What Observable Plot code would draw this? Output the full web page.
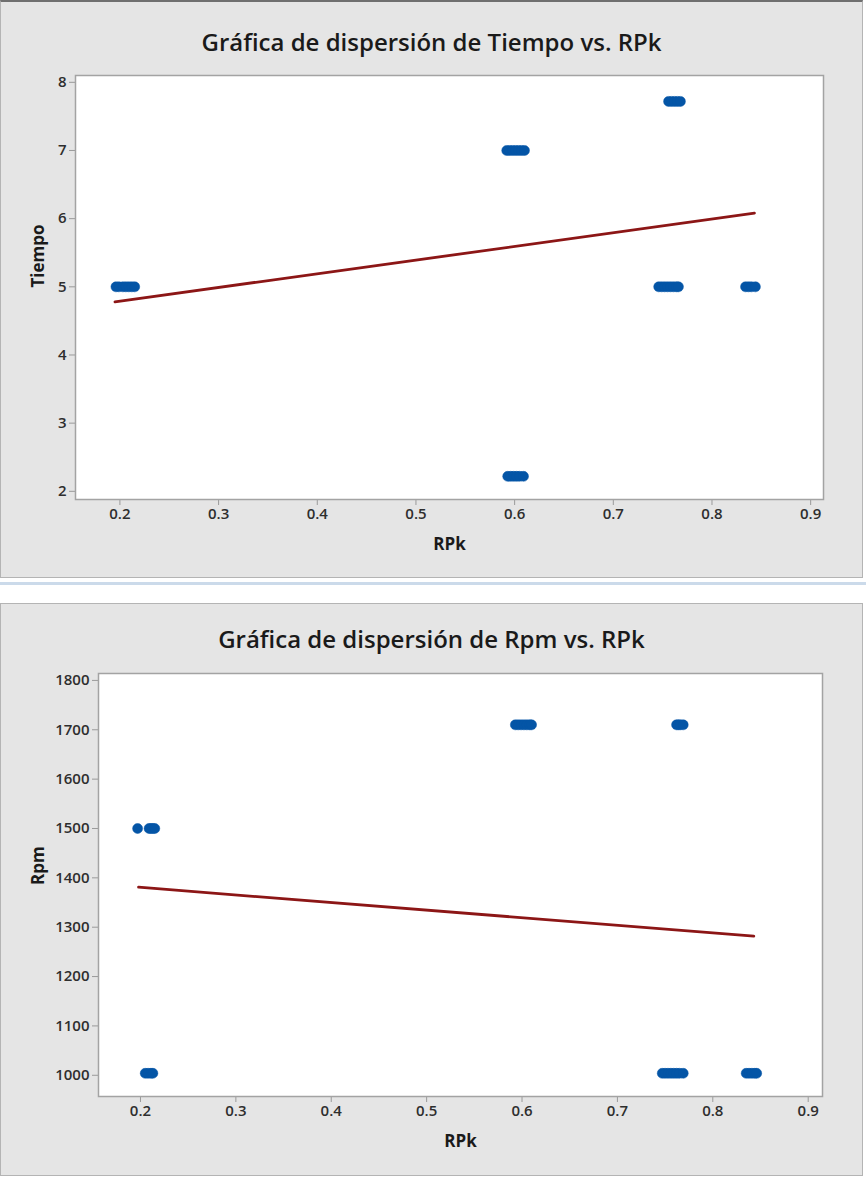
<!DOCTYPE html>
<html>
<head>
<meta charset="utf-8">
<script src="https://cdn.jsdelivr.net/npm/d3@7"></script>
<script src="https://cdn.jsdelivr.net/npm/@observablehq/plot@0.6"></script>
<style>
  body { margin: 0; background: #ffffff; width: 868px; height: 1177px; position: relative; overflow: hidden; }
  .panel { position: absolute; left: 0; box-sizing: content-box; background: #e5e5e5; border: 1px solid #b4b4b4; }
  #p1 { top: 0; border-top: 2px solid #6f6f6f; }
  #p2 { top: 603px; }
  .sep { position: absolute; left: 0; top: 582px; width: 866px; height: 3px; background: #cbdaea; }
  svg text { font-family: "Open Sans", "Noto Sans", sans-serif; }
</style>
</head>
<body>
<div class="panel" id="p1"></div>
<div class="sep"></div>
<div class="panel" id="p2"></div>
<script>
// ---- Data: Tiempo vs RPk ----
const rpkTiempo = [0.196, 0.199, 0.203, 0.206, 0.209, 0.212, 0.215,
                   0.592, 0.595, 0.598, 0.601, 0.604, 0.607, 0.610,
                   0.756, 0.759, 0.762, 0.765, 0.768,
                   0.746, 0.749, 0.752, 0.755, 0.758, 0.761, 0.764, 0.766,
                   0.834, 0.837, 0.840, 0.844,
                   0.593, 0.596, 0.599, 0.602, 0.605, 0.609];
const tiempo =    [5, 5, 5, 5, 5, 5, 5,
                   7, 7, 7, 7, 7, 7, 7,
                   7.72, 7.72, 7.72, 7.72, 7.72,
                   5, 5, 5, 5, 5, 5, 5, 5,
                   5, 5, 5, 5,
                   2.22, 2.22, 2.22, 2.22, 2.22, 2.22];
const fitTiempoX = [0.195, 0.843];
const fitTiempoY = [4.78, 6.08];

// ---- Data: Rpm vs RPk ----
const rpkRpm = [0.197, 0.209, 0.211, 0.213, 0.215,
                0.205, 0.208, 0.211, 0.213,
                0.593, 0.596, 0.599, 0.602, 0.605, 0.608, 0.610,
                0.762, 0.764, 0.766, 0.769,
                0.747, 0.750, 0.753, 0.756, 0.759, 0.762, 0.765, 0.769,
                0.835, 0.838, 0.841, 0.844, 0.846];
const rpm =    [1500, 1500, 1500, 1500, 1500,
                1004, 1004, 1004, 1004,
                1710, 1710, 1710, 1710, 1710, 1710, 1710,
                1710, 1710, 1710, 1710,
                1004, 1004, 1004, 1004, 1004, 1004, 1004, 1004,
                1004, 1004, 1004, 1004, 1004];
const fitRpmX = [0.198, 0.843];
const fitRpmY = [1381, 1282];

// ---- Ticks / labels ----
const xTicks = [0.2, 0.3, 0.4, 0.5, 0.6, 0.7, 0.8, 0.9];
const yTicksTiempo = [2, 3, 4, 5, 6, 7, 8];
const yTicksRpm = [1000, 1100, 1200, 1300, 1400, 1500, 1600, 1700, 1800];
const title1 = "Gráfica de dispersión de Tiempo vs. RPk";
const title2 = "Gráfica de dispersión de Rpm vs. RPk";
const xLabel = "RPk";
const yLabel1 = "Tiempo";
const yLabel2 = "Rpm";

const dotColor = "#0455a6";
const lineColor = "#8c1616";
const font = "'Open Sans', 'Noto Sans', sans-serif";

function makeChart(o) {
  const pts = o.xs.map((x, i) => ({x, y: o.ys[i]}));
  const fit = o.fx.map((x, i) => ({x, y: o.fy[i]}));
  const W = 861;
  const plotCenter = o.ml + (W - o.ml - o.mr) / 2;
  return Plot.plot({
    width: W,
    height: o.h,
    marginLeft: o.ml, marginRight: o.mr, marginTop: o.mt, marginBottom: o.mb,
    style: {background: "transparent", fontFamily: font, fontSize: "15px", color: "#2b2b2b", overflow: "visible"},
    x: {domain: o.xd, ticks: xTicks},
    y: {domain: o.yd, ticks: o.yt},
    marks: [
      Plot.frame({fill: "white", stroke: "none"}),
      Plot.axisX(xTicks, {tickSize: 6, tickPadding: 3, stroke: "#9a9a9a", fill: "#2e2e2e", fontSize: 15, fontWeight: 600, label: null, tickFormat: d3.format(".1f")}),
      Plot.axisY(o.yt, {tickSize: 6, tickPadding: 3, stroke: "#9a9a9a", fill: "#2e2e2e", fontSize: 15, fontWeight: 600, label: null, tickFormat: d => String(d)}),
      Plot.frame({stroke: "#a3a3a3", strokeWidth: 1.5}),
      Plot.line(fit, {x: "x", y: "y", stroke: lineColor, strokeWidth: 2.8}),
      Plot.dot(pts, {x: "x", y: "y", r: 5, fill: dotColor, stroke: dotColor, strokeWidth: 0.5}),
      Plot.text([o.title], {frameAnchor: "top", lineAnchor: "bottom", dy: o.titleY - o.mt, dx: 430 - plotCenter, fontSize: 24, fontWeight: 600, fill: "#1a1a1a"}),
      Plot.text([xLabel], {frameAnchor: "bottom", lineAnchor: "bottom", dy: 50, fontSize: 17, fontWeight: 700, fill: "#1a1a1a"}),
      Plot.text([o.yl], {frameAnchor: "left", rotate: -90, lineAnchor: "bottom", dx: 42 - o.ml, fontSize: 17, fontWeight: 700, fill: "#1a1a1a"})
    ]
  });
}

document.getElementById("p1").appendChild(makeChart({
  xs: rpkTiempo, ys: tiempo, fx: fitTiempoX, fy: fitTiempoY,
  h: 575, ml: 74, mr: 39, mt: 73, mb: 78,
  xd: [0.155, 0.913], yd: [1.88, 8.1], yt: yTicksTiempo,
  title: title1, titleY: 48, yl: yLabel1
}));

document.getElementById("p2").appendChild(makeChart({
  xs: rpkRpm, ys: rpm, fx: fitRpmX, fy: fitRpmY,
  h: 571, ml: 97, mr: 40, mt: 69, mb: 79,
  xd: [0.156, 0.915], yd: [957, 1814], yt: yTicksRpm,
  title: title2, titleY: 43, yl: yLabel2
}));
</script>
</body>
</html>
